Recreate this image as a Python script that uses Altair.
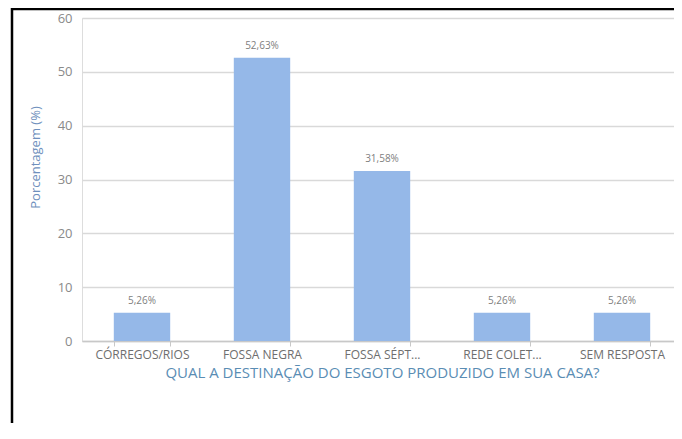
import altair as alt
import pandas as pd

categories = ["CÓRREGOS/RIOS", "FOSSA NEGRA", "FOSSA SÉPT...", "REDE COLET...", "SEM RESPOSTA"]
values = [5.26, 52.63, 31.58, 5.26, 5.26]
labels = ["5,26%", "52,63%", "31,58%", "5,26%", "5,26%"]

df = pd.DataFrame({"cat": categories, "val": values, "lab": labels})

FONT = "Open Sans"

x_enc = alt.X(
    "cat:N",
    sort=categories,
    scale=alt.Scale(paddingInner=0.53, paddingOuter=0.265, range=[0, 600]),
    axis=alt.Axis(
        title="QUAL A DESTINAÇÃO DO ESGOTO PRODUZIDO EM SUA CASA?",
        titleColor="#5a8db4",
        titleFont=FONT,
        titleFontSize=15,
        titleFontWeight="normal",
        titlePadding=5,
        titleX=300,
        labelAngle=0,
        labelColor="#6e6e6e",
        labelFont=FONT,
        labelFontSize=12,
        labelPadding=3,
        domainColor="#c8c8c8",
        domainWidth=1.5,
        tickColor="#c8c8c8",
        tickSize=5,
        tickBand="extent",
        grid=False,
    ),
)

y_enc = alt.Y(
    "val:Q",
    scale=alt.Scale(domain=[0, 60], nice=False),
    axis=alt.Axis(
        title="Porcentagem (%)",
        titleColor="#6f90bd",
        titleFont=FONT,
        titleFontSize=13,
        titleFontWeight="normal",
        titleX=-40,
        titleY=139,
        values=[0, 10, 20, 30, 40, 50, 60],
        labelColor="#8a8a8a",
        labelFont=FONT,
        labelFontSize=13,
        labelPadding=10,
        ticks=False,
        domain=False,
        gridColor="#d9d9d9",
        gridWidth=1.5,
    ),
)

bars = alt.Chart(df).mark_bar(color="#95b8e8").encode(x=x_enc, y=y_enc)

text = alt.Chart(df).mark_text(
    baseline="bottom", dy=-7, font=FONT, fontSize=10, color="#808080"
).encode(x=alt.X("cat:N", sort=categories), y="val:Q", text="lab:N")

one = pd.DataFrame({"k": [0]})
top_line = alt.Chart(one).mark_rule(color="#000000", strokeWidth=2.5).encode(
    x=alt.value(-71), x2=alt.value(600), y=alt.value(-9)
)
left_line = alt.Chart(one).mark_rule(color="#000000", strokeWidth=2.5).encode(
    x=alt.value(-70), y=alt.value(-10), y2=alt.value(420)
)

chart = (
    alt.layer(bars, text, top_line, left_line)
    .properties(
        width=592,
        height=323,
        padding={"left": 74, "top": 10, "right": 0, "bottom": 82},
        autosize=alt.AutoSizeParams(type="none"),
    )
    .configure_view(stroke=None)
    .configure(background="white")
)

chart.save("out.html", embed_options={"renderer": "svg", "actions": False})
